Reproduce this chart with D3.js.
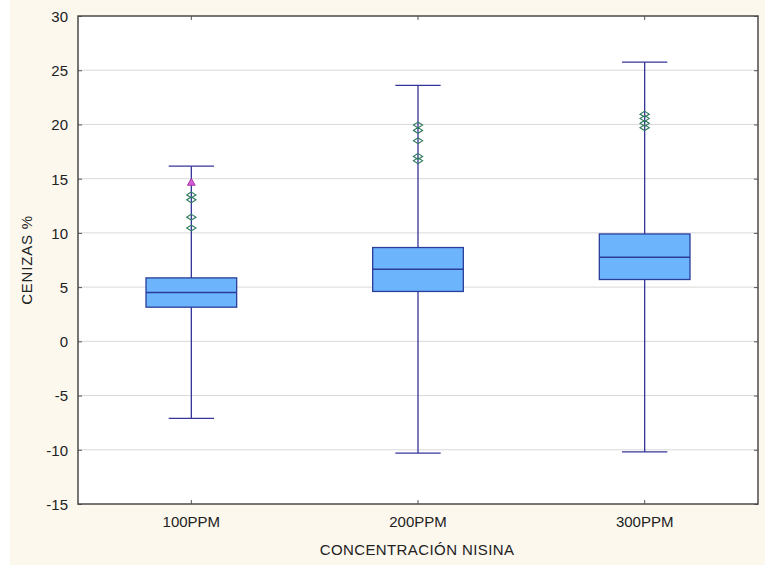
<!DOCTYPE html>
<html>
<head>
<meta charset="utf-8">
<script src="https://cdn.jsdelivr.net/npm/d3@7"></script>
<style>
  html, body { margin: 0; padding: 0; background: #ffffff; }
  svg { display: block; font-family: "Liberation Sans", Arial, sans-serif; }
</style>
</head>
<body>
<svg id="chart" width="768" height="570"></svg>
<script>
// Ash content (%) by nisin concentration
const categories = ["100PPM", "200PPM", "300PPM"];
const whiskerLow  = [-7.1, -10.3, -10.2];
const boxLow      = [3.15, 4.6, 5.7];
const medians     = [4.5, 6.65, 7.75];
const boxHigh     = [5.85, 8.65, 9.9];
const whiskerHigh = [16.15, 23.6, 25.75];
const outliers    = [
  [13.5, 13.05, 11.45, 10.45],
  [19.95, 19.45, 18.5, 17.05, 16.65],
  [20.95, 20.55, 20.1, 19.7]
];
const extremes    = [[14.6], [], []];
const yTicks = [-15, -10, -5, 0, 5, 10, 15, 20, 25, 30];

const svg = d3.select("#chart");
const m = { left: 78, top: 16 };
const plotR = 758, plotB = 504;
const font = "Liberation Sans, Arial, sans-serif";

// page background panel
svg.append("rect").attr("x", 10).attr("y", 0).attr("width", 755).attr("height", 565)
  .attr("fill", "#fcf8ee");

const x = d3.scaleBand().domain(categories).range([m.left, plotR]);
const y = d3.scaleLinear().domain([-15, 30]).range([plotB, m.top]);

// plot area
svg.append("rect").attr("x", m.left).attr("y", m.top)
  .attr("width", plotR - m.left).attr("height", plotB - m.top).attr("fill", "#ffffff");

// horizontal grid
svg.append("g").selectAll("line").data(yTicks.filter(t => t > -15 && t < 30)).join("line")
  .attr("x1", m.left).attr("x2", plotR)
  .attr("y1", d => y(d)).attr("y2", d => y(d))
  .attr("stroke", "#d9d9d9").attr("stroke-width", 1);

// left axis
const yAxis = svg.append("g").attr("transform", `translate(${m.left},0)`)
  .call(d3.axisLeft(y).tickValues(yTicks).tickSize(-4).tickPadding(10)
    .tickFormat(d => String(d)));
yAxis.select(".domain").remove();
yAxis.selectAll(".tick line").attr("stroke", "#555");
yAxis.selectAll("text").attr("font-size", 15).attr("fill", "#222")
  .attr("font-family", font).attr("dy", "0.36em");

// right inner ticks
svg.append("g").attr("transform", `translate(${plotR},0)`)
  .call(d3.axisRight(y).tickValues(yTicks).tickSize(-4).tickFormat(""))
  .call(g => g.select(".domain").remove())
  .selectAll(".tick line").attr("stroke", "#555");

// bottom axis
const xAxis = svg.append("g").attr("transform", `translate(0,${plotB})`)
  .call(d3.axisBottom(x).tickSize(-4).tickPadding(12));
xAxis.select(".domain").remove();
xAxis.selectAll(".tick line").attr("stroke", "#555");
xAxis.selectAll("text").attr("font-size", 15).attr("fill", "#222")
  .attr("font-family", font);

// top inner ticks
svg.append("g").attr("transform", `translate(0,${m.top})`)
  .call(d3.axisTop(x).tickSize(-4).tickFormat(""))
  .call(g => g.select(".domain").remove())
  .selectAll(".tick line").attr("stroke", "#555");

// frame
svg.append("rect").attr("x", m.left).attr("y", m.top)
  .attr("width", plotR - m.left).attr("height", plotB - m.top)
  .attr("fill", "none").attr("stroke", "#4a4a4a").attr("stroke-width", 1.5);

// boxes
const boxW = x.bandwidth() * 0.4;
const capW = boxW / 2;
const whiskerColor = "#34349a";
const boxStroke = "#2a3d9a";

const groups = svg.append("g").selectAll("g").data(categories).join("g")
  .attr("transform", d => `translate(${x(d) + x.bandwidth() / 2},0)`);

groups.append("line")
  .attr("x1", 0).attr("x2", 0)
  .attr("y1", (d, i) => y(whiskerLow[i])).attr("y2", (d, i) => y(whiskerHigh[i]))
  .attr("stroke", whiskerColor).attr("stroke-width", 1.3);

groups.append("line")
  .attr("x1", -capW / 2).attr("x2", capW / 2)
  .attr("y1", (d, i) => y(whiskerHigh[i])).attr("y2", (d, i) => y(whiskerHigh[i]))
  .attr("stroke", whiskerColor).attr("stroke-width", 1.3);

groups.append("line")
  .attr("x1", -capW / 2).attr("x2", capW / 2)
  .attr("y1", (d, i) => y(whiskerLow[i])).attr("y2", (d, i) => y(whiskerLow[i]))
  .attr("stroke", whiskerColor).attr("stroke-width", 1.3);

groups.append("rect")
  .attr("x", -boxW / 2).attr("width", boxW)
  .attr("y", (d, i) => y(boxHigh[i]))
  .attr("height", (d, i) => y(boxLow[i]) - y(boxHigh[i]))
  .attr("fill", "#6cb4fc").attr("stroke", boxStroke).attr("stroke-width", 1.3);

groups.append("line")
  .attr("x1", -boxW / 2).attr("x2", boxW / 2)
  .attr("y1", (d, i) => y(medians[i])).attr("y2", (d, i) => y(medians[i]))
  .attr("stroke", boxStroke).attr("stroke-width", 1.5);

// outliers (diamonds) and extremes (triangles)
const diamond = d3.symbol().type(d3.symbolDiamond2).size(30)();
groups.each(function(d, i) {
  d3.select(this).selectAll("path.out").data(outliers[i]).join("path")
    .attr("class", "out")
    .attr("d", diamond)
    .attr("transform", v => `translate(0,${y(v)}) scale(1.35,0.85)`)
    .attr("fill", "none").attr("stroke", "#2f7a5c").attr("stroke-width", 1.1);
  d3.select(this).selectAll("path.ext").data(extremes[i]).join("path")
    .attr("class", "ext")
    .attr("d", d3.symbol().type(d3.symbolTriangle).size(26)())
    .attr("transform", v => `translate(0,${y(v)})`)
    .attr("fill", "#d060d0").attr("stroke", "#b030b0").attr("stroke-width", 1);
});

// axis titles
svg.append("text")
  .attr("transform", `translate(32,${(m.top + plotB) / 2}) rotate(-90)`)
  .attr("text-anchor", "middle").attr("font-size", 15).attr("fill", "#222")
  .attr("letter-spacing", 0.8)
  .text("CENIZAS %");

svg.append("text")
  .attr("x", 417).attr("y", 555)
  .attr("text-anchor", "middle").attr("font-size", 15).attr("fill", "#222")
  .attr("letter-spacing", 0.4)
  .text("CONCENTRACIÓN NISINA");
</script>
</body>
</html>
